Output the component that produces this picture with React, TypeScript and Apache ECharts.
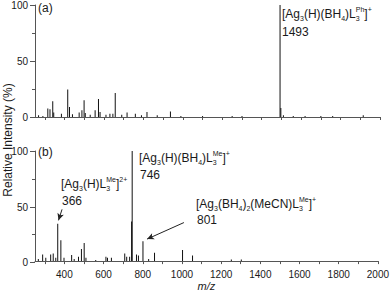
import React, { useEffect, useRef } from "react";
import * as echarts from "echarts";

// Panel (a) peaks: m/z and relative intensity (%)
const aMz = [268, 290, 315, 326, 340, 345, 384, 416, 425, 440, 474, 488, 499, 505, 530, 555, 572, 580, 610, 630, 645, 657, 690, 717, 759, 790, 818, 870, 937, 990, 1100, 1250, 1300, 1493, 1497, 1510, 1560, 1620, 1700, 1760, 1915];
const aInt = [1.5, 1, 7.5, 7, 14, 4, 3, 24.5, 9, 2.5, 4, 6, 15, 3.5, 2, 6, 16, 4.5, 2, 3, 3, 21.5, 2, 4, 3, 1.5, 4.5, 1.5, 5, 1, 0.8, 0.8, 0.8, 100, 8, 1.5, 1, 1, 1, 1, 1.5];

// Panel (b) peaks
const bMz = [267, 289, 305, 330, 343, 356, 366, 382, 398, 437, 450, 472, 487, 501, 510, 560, 612, 620, 640, 708, 718, 733, 743, 746, 768, 778, 801, 830, 860, 1003, 1054, 1252, 1303];
const bInt = [2, 6, 3, 6, 7, 3, 34, 19, 3, 5.5, 2, 4, 11, 16.5, 3, 1, 4, 3, 3, 7, 4, 4, 36, 100, 6, 5, 18, 2, 7.5, 10, 5, 1.5, 1.5];

const xTicks = [300, 400, 500, 600, 700, 800, 900, 1000, 1100, 1200, 1300, 1400, 1500, 1600, 1700, 1800, 1900, 2000];
const xLabels = [400, 600, 800, 1000, 1200, 1400, 1600, 1800, 2000];
const yMajor = [0, 50, 100];
const yMinor = [25, 75];

const X_MIN = 250;
const X_MAX = 2000;
const Y_MAX = 100;

const FONT = "Liberation Sans, Arial, sans-serif";
const INK = "#1a1a1a";
const AXIS = "#555";

const GRIDS = [
  { left: 35, top: 5, width: 345, height: 112 },
  { left: 35, top: 151, width: 345, height: 111 },
];

const rich = {
  m: { fontSize: 12, fontFamily: FONT, color: INK, lineHeight: 16 },
  sub: { fontSize: 7, fontFamily: FONT, color: INK, lineHeight: 8, verticalAlign: "bottom" },
  subz: { fontSize: 7, fontFamily: FONT, color: INK, lineHeight: 8, verticalAlign: "bottom", width: 0 },
  sup: { fontSize: 7, fontFamily: FONT, color: INK, lineHeight: 9, verticalAlign: "top" },
};

const lblA = "{m|[Ag}{sub|3}{m|(H)(BH}{sub|4}{m|)L}{subz|3}{sup|Ph}{m|]}{sup|+}";
const lblB1 = "{m|[Ag}{sub|3}{m|(H)(BH}{sub|4}{m|)L}{subz|3}{sup|Me}{m|]}{sup|+}";
const lblB2 = "{m|[Ag}{sub|3}{m|(H)L}{subz|3}{sup|Me}{m|]}{sup|2+}";
const lblB3 = "{m|[Ag}{sub|3}{m|(BH}{sub|4}{m|)}{sub|2}{m|(MeCN)L}{subz|3}{sup|Me}{m|]}{sup|+}";

function richText(x: number, y: number, text: string) {
  return {
    type: "text",
    x,
    y,
    z: 10,
    style: { text, rich, align: "left", verticalAlign: "middle", fill: INK },
  };
}
function plainText(x: number, y: number, text: string, extra: any = {}) {
  return {
    type: "text",
    x,
    y,
    z: 10,
    ...extra,
    style: { text, font: `12px ${FONT}`, fill: INK, align: "left", verticalAlign: "middle", ...(extra.style || {}) },
  };
}

function measure(text: string, font: string): number {
  try {
    const c = document.createElement("canvas").getContext("2d");
    if (c) {
      c.font = font;
      const w = c.measureText(text).width;
      if (isFinite(w) && w > 0) return w;
    }
  } catch (e) {}
  return text.length * 5.56;
}

function yAxisDecor(): any[] {
  const labelFont = `10px ${FONT}`;
  const out: any[] = [];
  GRIDS.forEach((g) => {
    const ax = g.left;
    const yPix = (v: number) => Math.round(g.top + g.height * (1 - v / Y_MAX)) + 0.5;
    yMajor.forEach((v) => {
      const py = yPix(v);
      out.push({
        type: "line",
        z: 10,
        shape: { x1: ax - 5, y1: py, x2: ax, y2: py },
        style: { stroke: AXIS, lineWidth: 1 },
      });
      const txt = String(v);
      out.push({
        type: "text",
        z: 10,
        x: ax - 7 - measure(txt, labelFont),
        y: py,
        style: { text: txt, font: labelFont, fill: INK, align: "left", verticalAlign: "middle" },
      });
    });
    yMinor.forEach((v) => {
      const py = yPix(v);
      out.push({
        type: "line",
        z: 10,
        shape: { x1: ax - 3, y1: py, x2: ax, y2: py },
        style: { stroke: AXIS, lineWidth: 1 },
      });
    });
  });
  return out;
}

export default function App() {
  const ref = useRef<HTMLDivElement>(null);
  useEffect(() => {
    if (!ref.current) return;
    const chart = echarts.init(ref.current, undefined, { renderer: "svg" });
    const xAxisBase = (gridIndex: number, showLabels: boolean) => ({
      type: "value",
      gridIndex,
      min: X_MIN,
      max: X_MAX,
      axisLine: { show: true, lineStyle: { color: AXIS, width: 1 } },
      axisTick: { show: true, customValues: xTicks, length: 3, lineStyle: { color: AXIS } },
      axisLabel: {
        show: showLabels,
        customValues: xLabels,
        formatter: (v: number) => String(v),
        fontSize: 10,
        fontFamily: FONT,
        color: INK,
        margin: 8,
      },
      splitLine: { show: false },
      ...(showLabels
        ? {
            name: "m/z",
            nameLocation: "middle",
            nameGap: 18,
            nameTextStyle: { fontSize: 11, fontStyle: "italic", fontFamily: FONT, color: INK },
          }
        : {}),
    });
    const yAxisBase = (gridIndex: number) => ({
      type: "value",
      gridIndex,
      min: 0,
      max: Y_MAX,
      axisLine: { show: true, lineStyle: { color: AXIS, width: 1 } },
      axisTick: { show: false },
      axisLabel: { show: false },
      splitLine: { show: false },
    });
    const graphic: any[] = [
      plainText(8, 140, "Relative Intensity (%)", { rotation: Math.PI / 2, style: { align: "center" } }),
      plainText(38, 8, "(a)"),
      plainText(38, 152, "(b)"),
      richText(282, 14, lblA),
      plainText(282, 32, "1493"),
      richText(139, 158, lblB1),
      plainText(140, 175, "746"),
      richText(61, 184, lblB2),
      plainText(62, 201, "366"),
      richText(196, 204, lblB3),
      plainText(197, 220, "801"),
      ...yAxisDecor(),
    ];
    chart.setOption({
      animation: false,
      grid: GRIDS,
      xAxis: [xAxisBase(0, false), xAxisBase(1, true)],
      yAxis: [yAxisBase(0), yAxisBase(1)],
      series: [
        {
          type: "bar",
          xAxisIndex: 0,
          yAxisIndex: 0,
          barWidth: 1,
          itemStyle: { color: "#111" },
          data: aMz.map((m, i) => [m, aInt[i]]),
          silent: true,
        },
        {
          type: "bar",
          xAxisIndex: 1,
          yAxisIndex: 1,
          barWidth: 1,
          itemStyle: { color: "#111" },
          data: bMz.map((m, i) => [m, bInt[i]]),
          silent: true,
          markLine: {
            silent: true,
            symbol: ["none", "arrow"],
            symbolSize: [5, 7],
            label: { show: false },
            lineStyle: { color: "#222", width: 1, type: "solid" },
            data: [
              [{ coord: [388, 47] }, { coord: [370, 37] }],
              [{ coord: [1010, 35] }, { coord: [822, 20] }],
            ],
          },
        },
      ],
      graphic,
    });
    return () => chart.dispose();
  }, []);
  return <div ref={ref} style={{ width: 392, height: 292, position: "absolute", left: 0, top: 0 }} />;
}
